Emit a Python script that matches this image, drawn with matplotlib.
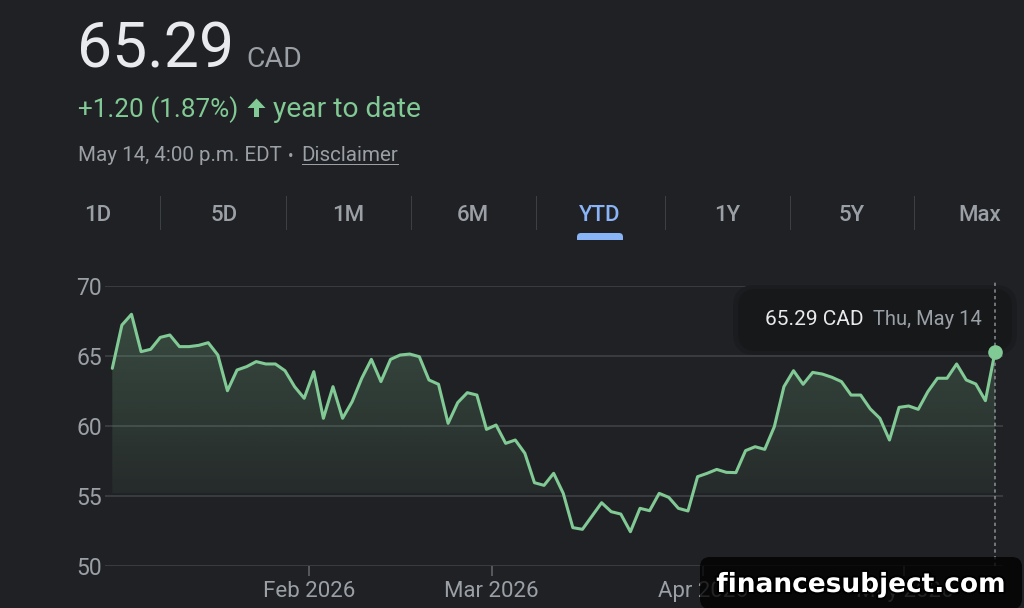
import numpy as np
import pandas as pd
import matplotlib
matplotlib.use("Agg")
import matplotlib.pyplot as plt
from matplotlib.patches import Polygon, FancyBboxPatch, Rectangle, Circle
from matplotlib.transforms import Affine2D
from matplotlib.colors import to_rgb
import matplotlib.patheffects as pe

# ---------------- data ----------------
holidays = ["2026-02-16", "2026-04-03"]
dates = pd.bdate_range("2026-01-02", "2026-05-14")
dates = dates[~dates.isin(pd.to_datetime(holidays))]

prices = [
    64.12, 67.21, 67.98, 65.31, 65.48, 66.33, 66.50, 65.67, 65.67, 65.76,
    65.95, 65.07, 62.52, 64.00, 64.24, 64.60, 64.43, 64.43, 63.95, 62.81,
    61.98, 63.88, 60.55, 62.81, 60.55, 61.74, 63.41, 64.76, 63.17, 64.76,
    65.07, 65.14, 64.95, 63.29, 62.98, 60.19, 61.67, 62.38, 62.21, 59.76,
    60.07, 58.76, 59.00, 58.05, 55.95, 55.76, 56.62, 55.19, 52.74, 52.62,
    53.57, 54.52, 53.88, 53.71, 52.45, 54.12, 53.95, 55.19, 54.90, 54.12,
    53.93, 56.38, 56.62, 56.90, 56.69, 56.67, 58.24, 58.52, 58.33, 59.95,
    62.81, 63.95, 62.98, 63.83, 63.71, 63.48, 63.17, 62.21, 62.21, 61.22,
    60.55, 59.00, 61.33, 61.43, 61.19, 62.45, 63.41, 63.41, 64.43, 63.29,
    63.00, 61.81, 65.29,
]

y_ticks = [50, 55, 60, 65, 70]
tabs = ["1D", "5D", "1M", "6M", "YTD", "1Y", "5Y", "Max"]
active_tab = "YTD"

price_text = "65.29"
currency = "CAD"
change_text = "+1.20 (1.87%)"
period_text = "year to date"
stamp_text = "May 14, 4:00 p.m. EDT"
bullet = "\u2022"
disclaimer = "Disclaimer"
tip_value = "65.29 CAD"
tip_date = "Thu, May 14"
watermark = "financesubject.com"

# ---------------- style ----------------
W, H = 1024, 608
BG = "#202124"
GREEN = "#81c995"
GRAY = "#9aa0a6"
WHITE = "#e8eaed"
GRID = "#3c4043"
BLUE = "#8ab4f8"
FONT = "Roboto"

plt.rcParams["font.family"] = [FONT, "DejaVu Sans"]

fig = plt.figure(figsize=(W / 100, H / 100), dpi=100, facecolor=BG)
pix = Affine2D().scale(1, -1).translate(0, H)  # pixel coords, origin top-left

# ---------------- chart ----------------
n = len(prices)
x = np.arange(n)
ax_l, ax_r, ax_t, ax_b = 105, 1003, 286, 566
ax = fig.add_axes([ax_l / W, 1 - ax_b / H, (ax_r - ax_l) / W, (ax_b - ax_t) / H])
ax.set_facecolor("none")
for s in ax.spines.values():
    s.set_visible(False)

step = 9.59
x0 = -(112.3 - ax_l) / step
x1 = (n - 1) + (ax_r - 995) / step

for v in y_ticks:
    ax.axhline(v, color=GRID, lw=1.3, zorder=1)

# gradient fill under the line
ny = 400
vals = np.linspace(70, 50, ny)
alpha = 0.06 + 0.19 * (vals - 55.2) / (68 - 55.2)
alpha = np.clip(alpha, 0, 0.25)
alpha[vals < 55.2] = 0
img = np.zeros((ny, 1, 4))
img[..., :3] = to_rgb(GREEN)
img[..., 3] = alpha[:, None]
im = ax.imshow(img, extent=[x0, x1, 50, 70], aspect="auto", origin="upper",
               zorder=2, interpolation="bilinear")
verts = [(0, 50)] + list(zip(x, prices)) + [(n - 1, 50)]
clip = Polygon(verts, closed=True, facecolor="none", edgecolor="none")
ax.add_patch(clip)
im.set_clip_path(clip)

ax.plot(x, prices, color=GREEN, lw=2.2, zorder=4, solid_joinstyle="round",
        solid_capstyle="round")

ax.set_xlim(x0, x1)
ax.set_ylim(50, 70)

ax.set_yticks(y_ticks)
ax.set_yticklabels([str(v) for v in y_ticks])
ax.tick_params(axis="y", length=0, pad=2, labelsize=16.5, labelcolor=GRAY)

month_idx = []
month_lab = []
for m in [2, 3, 4, 5]:
    i = int(np.argmax(dates.month == m))
    month_idx.append(i - 0.45)
    month_lab.append(dates[i].strftime("%b %Y"))
ax.set_xticks(month_idx)
ax.set_xticklabels(month_lab)
ax.tick_params(axis="x", length=7, width=1.2, color="#5f6368", pad=4,
               labelsize=16, labelcolor=GRAY)

# tooltip
glow = FancyBboxPatch((733, 285), 284, 70, boxstyle="round,pad=0,rounding_size=22",
                      transform=pix, facecolor="#1b1c1f", edgecolor="none",
                      clip_on=False, zorder=5)
ax.add_patch(glow)
tip = FancyBboxPatch((738, 289), 274, 62, boxstyle="round,pad=0,rounding_size=18",
                     transform=pix, facecolor="#17181a", edgecolor="none",
                     clip_on=False, zorder=5)
ax.add_patch(tip)
ax.text(765, 325, tip_value, transform=pix, color=WHITE, fontsize=15,
        ha="left", va="baseline", zorder=7, clip_on=False)
ax.text(873, 325, tip_date, transform=pix, color=GRAY, fontsize=14.5,
        ha="left", va="baseline", zorder=7, clip_on=False)

# hover line and end marker
ax.plot([n - 1, n - 1], [50, 70.3], color=GRAY, lw=1.2, alpha=0.8,
        linestyle=(0, (2, 2)), zorder=6, clip_on=False)
ax.plot([n - 1], [prices[-1]], "o", color=GREEN, markersize=9.5, zorder=8,
        clip_on=False)

# ---------------- header ----------------
fig.text(77, 67, price_text, transform=pix, color=WHITE, fontsize=45,
         ha="left", va="baseline")
fig.text(246, 67, currency, transform=pix, color=GRAY, fontsize=20.5,
         ha="left", va="baseline")
fig.text(78, 117, change_text, transform=pix, color=GREEN, fontsize=18.8,
         ha="left", va="baseline")
arrow = Polygon([(247.5, 108), (256.5, 98.5), (265.5, 108), (259, 108),
                 (259, 117), (254, 117), (254, 108)],
                closed=True, transform=pix, facecolor=GREEN, edgecolor="none")
fig.add_artist(arrow)
fig.text(273, 117, period_text, transform=pix, color=GREEN, fontsize=20.3,
         ha="left", va="baseline")
fig.text(78, 161, stamp_text, transform=pix, color=GRAY, fontsize=14.8,
         ha="left", va="baseline")
fig.text(291, 161, bullet, transform=pix, color=GRAY, fontsize=12,
         ha="center", va="baseline")
fig.text(301, 161, disclaimer, transform=pix, color=GRAY, fontsize=14.8,
         ha="left", va="baseline")
fig.add_artist(Rectangle((302, 163.5), 97, 1.4, transform=pix, facecolor=GRAY,
                         edgecolor="none"))

# tabs
tab_centers = [98, 224, 348, 473, 600, 727, 852, 980]
seps = [160, 286, 411, 536, 665, 790, 914]
for lab, cx in zip(tabs, tab_centers):
    fig.text(cx, 221, lab, transform=pix, fontsize=16, fontweight="medium",
             color=BLUE if lab == active_tab else GRAY, ha="center",
             va="baseline")
for sx in seps:
    fig.add_artist(Rectangle((sx, 196), 1, 34, transform=pix,
                             facecolor=GRID, edgecolor="none"))
ci = tab_centers[tabs.index(active_tab)]
fig.add_artist(FancyBboxPatch((ci - 23, 233), 46, 10,
                              boxstyle="round,pad=0,rounding_size=4",
                              transform=pix, facecolor=BLUE, edgecolor="none"))
fig.add_artist(Rectangle((ci - 30, 240), 60, 6, transform=pix,
                         facecolor=BG, edgecolor="none"))

# watermark
wm_box = FancyBboxPatch((700, 557), 322, 52, boxstyle="round,pad=0,rounding_size=10",
                        transform=pix, facecolor="black", alpha=0.78,
                        edgecolor="none", zorder=10)
fig.add_artist(wm_box)
fig.text(861, 592, watermark, transform=pix, color="white", fontsize=19,
         fontweight="bold", family="DejaVu Sans", ha="center", va="baseline",
         zorder=11,
         path_effects=[pe.withStroke(linewidth=3, foreground="black")])

fig.savefig("out.png", dpi=100, facecolor=BG)
